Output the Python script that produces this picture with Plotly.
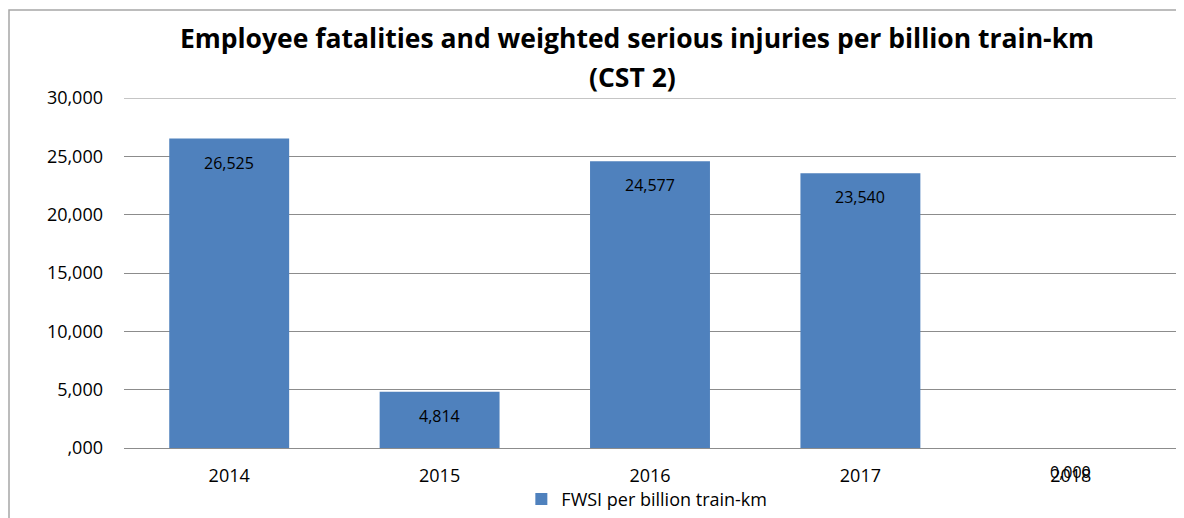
import plotly.graph_objects as go

years = ["2014", "2015", "2016", "2017", "2018"]
fwsi = [26.525, 4.814, 24.577, 23.540, 0.0]
label_text = ["26,525", "4,814", "24,577", "23,540", "0,000"]
tick_vals = [0, 5, 10, 15, 20, 25, 30]
tick_text = [",000", "5,000", "10,000", "15,000", "20,000", "25,000", "30,000"]
title_line1 = "Employee fatalities and weighted serious injuries per billion train-km"
title_line2 = "(CST 2)"

FONT = "Open Sans"
W, H = 1176, 510
L, R, T, B = 116, 8, 90, 70
PW, PH = W - L - R, H - T - B
GRID = "#8C8C8C"

fig = go.Figure()
fig.add_trace(go.Bar(
    x=years, y=fwsi, name="FWSI per billion train-km",
    marker=dict(color="#4F81BD", line=dict(width=0)),
))

for i, (y, t) in enumerate(zip(fwsi, label_text)):
    fig.add_annotation(x=i, y=y, text=t, showarrow=False, yshift=-24,
                       font=dict(family=FONT, size=16, color="#000000"))

fig.add_annotation(xref="paper", yref="paper", x=(624 - L) / PW, y=(T + PH - 68.5) / PH,
                   xanchor="center", yanchor="middle", showarrow=False,
                   text="<b>" + title_line2 + "</b>",
                   font=dict(family=FONT, size=26.5, color="#000000"))

fig.update_layout(
    width=W, height=H,
    margin=dict(l=L, r=R, t=T, b=B, autoexpand=False),
    paper_bgcolor="white", plot_bgcolor="white",
    bargap=0.43,
    title=dict(text="<b>" + title_line1 + "</b>",
               x=629 / W, xanchor="center", y=1 - 31 / H, yanchor="middle",
               font=dict(family=FONT, size=26.5, color="#000000")),
    showlegend=True,
    legend=dict(orientation="h", x=0.497, xanchor="center", y=-0.094, yanchor="top",
                font=dict(family=FONT, size=18, color="#000000"),
                bgcolor="rgba(0,0,0,0)"),
    xaxis=dict(type="category", range=[-0.5, 4.5], showgrid=False, showline=False, ticks="",
               tickfont=dict(family=FONT, size=18, color="#000000"),
               ticklabelstandoff=15),
    yaxis=dict(range=[0, 30], tickvals=tick_vals, ticktext=tick_text,
               showgrid=True, gridcolor=GRID, gridwidth=1,
               zeroline=True, zerolinecolor=GRID, zerolinewidth=1,
               showline=False, ticks="",
               tickfont=dict(family=FONT, size=18, color="#000000"),
               ticklabelstandoff=20),
    shapes=[
        dict(type="rect", xref="paper", yref="paper",
             x0=(1 - L) / PW, x1=(W + 20 - L) / PW,
             y0=(T + PH - (H + 20)) / PH, y1=(T + PH - 2) / PH,
             line=dict(color="#A6A6A6", width=1.5), layer="below"),
        dict(type="line", xref="paper", yref="y", x0=0, x1=1,
             y0=tick_vals[-1], y1=tick_vals[-1],
             line=dict(color=GRID, width=1), layer="below"),
    ],
)

fig.write_html("out.html")
